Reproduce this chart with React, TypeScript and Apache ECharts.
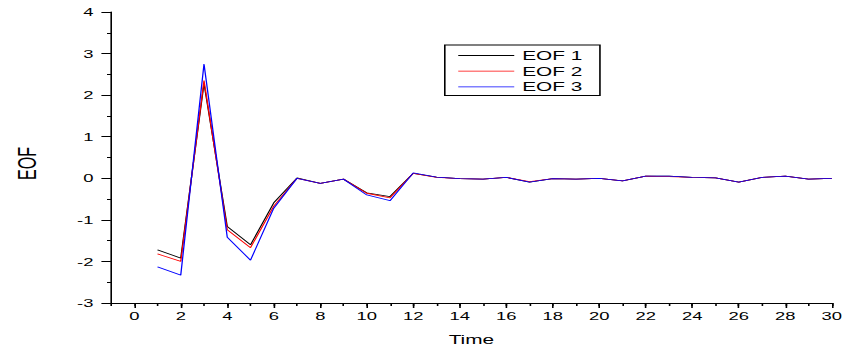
import React, { useEffect, useRef } from "react";
import * as echarts from "echarts";

const times = [1, 2, 3, 4, 5, 6, 7, 8, 9, 10, 11, 12, 13, 14, 15, 16, 17, 18, 19, 20, 21, 22, 23, 24, 25, 26, 27, 28, 29, 30];
const eof1 = [-1.72, -1.92, 2.28, -1.16, -1.6, -0.59, 0.01, -0.12, -0.02, -0.35, -0.44, 0.12, 0.03, -0.01, -0.02, 0.02, -0.09, -0.01, -0.02, 0.0, -0.06, 0.05, 0.05, 0.02, 0.01, -0.09, 0.02, 0.05, -0.02, 0.0];
const eof2 = [-1.82, -2.0, 2.35, -1.24, -1.67, -0.67, 0.0, -0.12, -0.02, -0.36, -0.47, 0.12, 0.02, -0.01, -0.02, 0.02, -0.08, -0.01, -0.02, 0.0, -0.06, 0.05, 0.04, 0.02, 0.01, -0.09, 0.02, 0.05, -0.02, 0.0];
const eof3 = [-2.13, -2.33, 2.75, -1.42, -1.97, -0.72, 0.0, -0.12, -0.02, -0.4, -0.54, 0.13, 0.03, -0.01, -0.02, 0.02, -0.09, -0.01, -0.02, 0.0, -0.06, 0.05, 0.05, 0.02, 0.01, -0.09, 0.02, 0.05, -0.02, 0.0];
const seriesNames = ["EOF 1", "EOF 2", "EOF 3"];
const seriesColors = ["#000000", "#ff0000", "#0000ff"];
const xTickValues = [0, 2, 4, 6, 8, 10, 12, 14, 16, 18, 20, 22, 24, 26, 28, 30];
const xMin = -1;
const xMax = 30;
const yMin = -3;
const yMax = 4;

const S = 1.6;
const W = 845 / S;
const H = 349;
const FONT = "'Liberation Sans', Arial, sans-serif";

export default function App() {
  const ref = useRef<HTMLDivElement>(null);
  useEffect(() => {
    if (!ref.current) return;
    const chart = echarts.init(ref.current, null, { renderer: "svg" });
    const allSeries = [eof1, eof2, eof3];
    chart.setOption({
      animation: false,
      backgroundColor: "#ffffff",
      grid: {
        left: 111 / S,
        right: 13 / S,
        top: 12,
        bottom: 46,
        containLabel: false,
        outerBoundsMode: "none",
      },
      legend: {
        orient: "vertical",
        left: 278,
        top: 45,
        padding: [4, 11, 2, 8],
        itemWidth: 35,
        itemHeight: 14,
        itemGap: 2.7,
        borderColor: "#000",
        borderWidth: 1,
        backgroundColor: "#fff",
        itemStyle: { color: "transparent", borderWidth: 0, opacity: 0 },
        lineStyle: { width: 0.8 },
        textStyle: { fontFamily: FONT, fontSize: 13, color: "#000", padding: [0, 0, 0, 0] },
        data: seriesNames,
      },
      xAxis: [
        {
          type: "value",
          min: xMin,
          max: xMax,
          position: "bottom",
          name: "Time",
          nameLocation: "middle",
          nameGap: 30,
          nameTextStyle: { fontFamily: FONT, fontSize: 13, color: "#000" },
          axisLine: { show: true, onZero: false, lineStyle: { color: "#000", width: 1 } },
          axisTick: { show: true, customValues: xTickValues, length: 5, lineStyle: { color: "#000" } },
          axisLabel: { show: true, customValues: xTickValues, margin: 7, fontFamily: FONT, fontSize: 11.5, color: "#000" },
          splitLine: { show: false },
        },
        {
          type: "value",
          min: xMin,
          max: xMax,
          interval: 1,
          position: "bottom",
          axisLine: { show: false, onZero: false },
          axisTick: { show: true, length: 3, lineStyle: { color: "#000" } },
          axisLabel: { show: false },
          splitLine: { show: false },
        },
      ],
      yAxis: {
        type: "value",
        min: yMin,
        max: yMax,
        interval: 1,
        axisLine: { show: true, onZero: false, lineStyle: { color: "#000", width: 1 } },
        axisTick: { show: true, length: 6, lineStyle: { color: "#000" } },
        minorTick: { show: true, splitNumber: 2, length: 2.5, lineStyle: { color: "#000" } },
        axisLabel: { margin: 11, fontFamily: FONT, fontSize: 11.5, color: "#000" },
        splitLine: { show: false },
      },
      graphic: [
        {
          type: "text",
          x: 17.3,
          y: 163.5,
          rotation: Math.PI / 2,
          style: {
            text: "EOF",
            fontFamily: FONT,
            fontSize: 16,
            fill: "#000",
            textAlign: "center",
            textVerticalAlign: "middle",
          },
        },
      ],
      series: allSeries.map((vals, si) => ({
        name: seriesNames[si],
        type: "line",
        xAxisIndex: 0,
        symbol: "none",
        color: seriesColors[si],
        lineStyle: { color: seriesColors[si], width: 0.8 },
        data: times.map((t, i) => [t, vals[i]]),
        z: 2 + si,
      })),
    });
    return () => chart.dispose();
  }, []);
  return (
    <div
      style={{
        position: "absolute",
        left: 0,
        top: 0,
        width: W,
        height: H,
        transform: `scaleX(${S})`,
        transformOrigin: "0 0",
      }}
    >
      <div ref={ref} style={{ width: W, height: H }} />
    </div>
  );
}
